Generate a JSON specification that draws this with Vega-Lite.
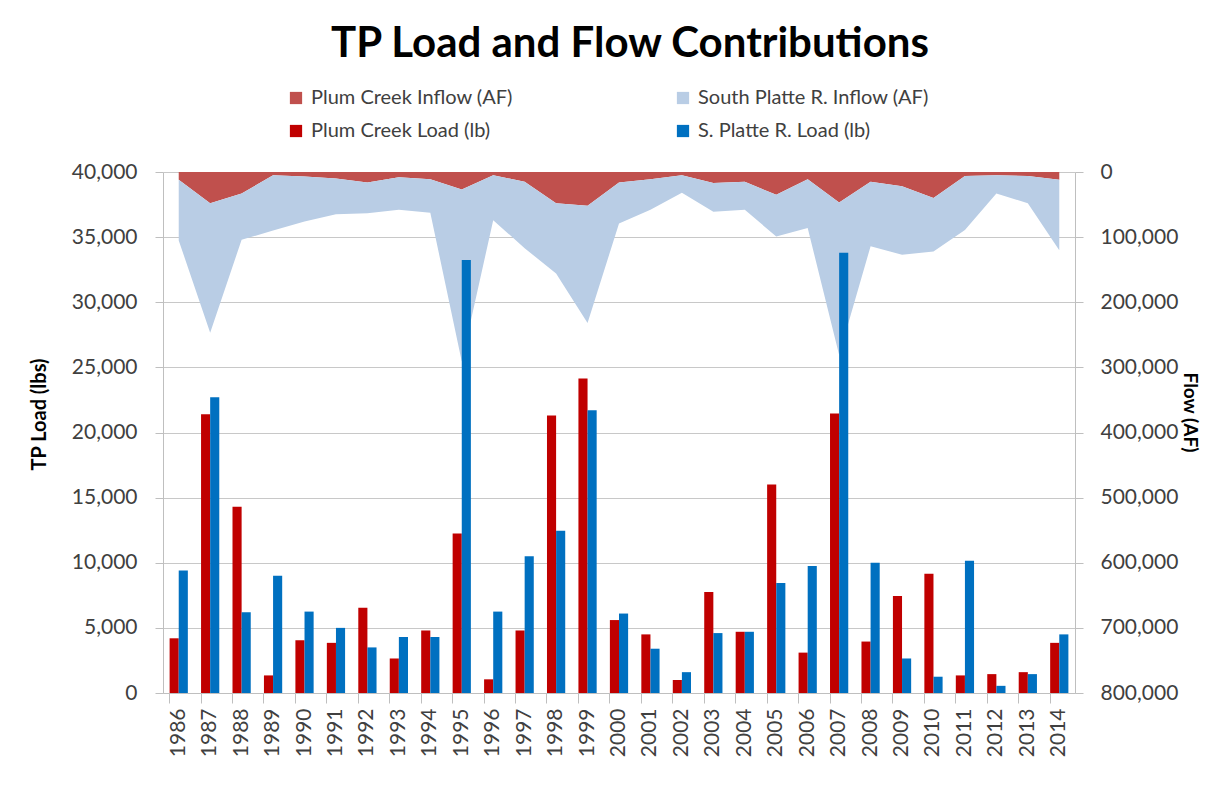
{
  "$schema": "https://vega.github.io/schema/vega-lite/v6.json",
  "width": 912,
  "height": 521,
  "autosize": {"type": "none"},
  "padding": {"left": 163, "top": 172, "right": 133, "bottom": 110},
  "background": "white",
  "title": {
    "text": "TP Load and Flow Contributions",
    "font": "Lato",
    "fontSize": 42,
    "fontWeight": "bold",
    "color": "#000000",
    "anchor": "middle",
    "dx": 11,
    "offset": 22
  },
  "config": {
    "view": {"stroke": null},
    "axis": {
      "labelFont": "Lato",
      "labelFontSize": 21,
      "labelColor": "#404040",
      "titleFont": "Lato",
      "titleFontSize": 20,
      "titleFontWeight": "bold",
      "titleColor": "#000000",
      "domainColor": "#bfbfbf",
      "tickColor": "#bfbfbf",
      "gridColor": "#c8c8c8"
    },
    "legend": {
      "labelFont": "Lato",
      "labelFontSize": 20,
      "labelColor": "#404040",
      "labelLimit": 400
    }
  },
  "datasets": {
    "flow": [
      {"year": "1986", "series": "Plum Creek Inflow (AF)", "flow": 12000},
      {"year": "1987", "series": "Plum Creek Inflow (AF)", "flow": 48000},
      {"year": "1988", "series": "Plum Creek Inflow (AF)", "flow": 33000},
      {"year": "1989", "series": "Plum Creek Inflow (AF)", "flow": 5000},
      {"year": "1990", "series": "Plum Creek Inflow (AF)", "flow": 7000},
      {"year": "1991", "series": "Plum Creek Inflow (AF)", "flow": 10000},
      {"year": "1992", "series": "Plum Creek Inflow (AF)", "flow": 16000},
      {"year": "1993", "series": "Plum Creek Inflow (AF)", "flow": 8000},
      {"year": "1994", "series": "Plum Creek Inflow (AF)", "flow": 11000},
      {"year": "1995", "series": "Plum Creek Inflow (AF)", "flow": 27000},
      {"year": "1996", "series": "Plum Creek Inflow (AF)", "flow": 5000},
      {"year": "1997", "series": "Plum Creek Inflow (AF)", "flow": 15000},
      {"year": "1998", "series": "Plum Creek Inflow (AF)", "flow": 48000},
      {"year": "1999", "series": "Plum Creek Inflow (AF)", "flow": 52000},
      {"year": "2000", "series": "Plum Creek Inflow (AF)", "flow": 16000},
      {"year": "2001", "series": "Plum Creek Inflow (AF)", "flow": 11000},
      {"year": "2002", "series": "Plum Creek Inflow (AF)", "flow": 5000},
      {"year": "2003", "series": "Plum Creek Inflow (AF)", "flow": 17000},
      {"year": "2004", "series": "Plum Creek Inflow (AF)", "flow": 15000},
      {"year": "2005", "series": "Plum Creek Inflow (AF)", "flow": 35000},
      {"year": "2006", "series": "Plum Creek Inflow (AF)", "flow": 11000},
      {"year": "2007", "series": "Plum Creek Inflow (AF)", "flow": 47000},
      {"year": "2008", "series": "Plum Creek Inflow (AF)", "flow": 15000},
      {"year": "2009", "series": "Plum Creek Inflow (AF)", "flow": 22000},
      {"year": "2010", "series": "Plum Creek Inflow (AF)", "flow": 40000},
      {"year": "2011", "series": "Plum Creek Inflow (AF)", "flow": 6000},
      {"year": "2012", "series": "Plum Creek Inflow (AF)", "flow": 5000},
      {"year": "2013", "series": "Plum Creek Inflow (AF)", "flow": 6000},
      {"year": "2014", "series": "Plum Creek Inflow (AF)", "flow": 12000},
      {"year": "1986", "series": "South Platte R. Inflow (AF)", "flow": 93000},
      {"year": "1987", "series": "South Platte R. Inflow (AF)", "flow": 199000},
      {"year": "1988", "series": "South Platte R. Inflow (AF)", "flow": 71000},
      {"year": "1989", "series": "South Platte R. Inflow (AF)", "flow": 85000},
      {"year": "1990", "series": "South Platte R. Inflow (AF)", "flow": 69000},
      {"year": "1991", "series": "South Platte R. Inflow (AF)", "flow": 55000},
      {"year": "1992", "series": "South Platte R. Inflow (AF)", "flow": 47500},
      {"year": "1993", "series": "South Platte R. Inflow (AF)", "flow": 50000},
      {"year": "1994", "series": "South Platte R. Inflow (AF)", "flow": 51500},
      {"year": "1995", "series": "South Platte R. Inflow (AF)", "flow": 264000},
      {"year": "1996", "series": "South Platte R. Inflow (AF)", "flow": 69000},
      {"year": "1997", "series": "South Platte R. Inflow (AF)", "flow": 102000},
      {"year": "1998", "series": "South Platte R. Inflow (AF)", "flow": 108000},
      {"year": "1999", "series": "South Platte R. Inflow (AF)", "flow": 180000},
      {"year": "2000", "series": "South Platte R. Inflow (AF)", "flow": 63000},
      {"year": "2001", "series": "South Platte R. Inflow (AF)", "flow": 47000},
      {"year": "2002", "series": "South Platte R. Inflow (AF)", "flow": 27000},
      {"year": "2003", "series": "South Platte R. Inflow (AF)", "flow": 44000},
      {"year": "2004", "series": "South Platte R. Inflow (AF)", "flow": 43000},
      {"year": "2005", "series": "South Platte R. Inflow (AF)", "flow": 64000},
      {"year": "2006", "series": "South Platte R. Inflow (AF)", "flow": 75000},
      {"year": "2007", "series": "South Platte R. Inflow (AF)", "flow": 234000},
      {"year": "2008", "series": "South Platte R. Inflow (AF)", "flow": 99000},
      {"year": "2009", "series": "South Platte R. Inflow (AF)", "flow": 105000},
      {"year": "2010", "series": "South Platte R. Inflow (AF)", "flow": 82000},
      {"year": "2011", "series": "South Platte R. Inflow (AF)", "flow": 83000},
      {"year": "2012", "series": "South Platte R. Inflow (AF)", "flow": 28000},
      {"year": "2013", "series": "South Platte R. Inflow (AF)", "flow": 42000},
      {"year": "2014", "series": "South Platte R. Inflow (AF)", "flow": 108000}
    ],
    "load": [
      {"year": "1986", "series": "Plum Creek Load (lb)", "load": 4200},
      {"year": "1987", "series": "Plum Creek Load (lb)", "load": 21400},
      {"year": "1988", "series": "Plum Creek Load (lb)", "load": 14300},
      {"year": "1989", "series": "Plum Creek Load (lb)", "load": 1350},
      {"year": "1990", "series": "Plum Creek Load (lb)", "load": 4050},
      {"year": "1991", "series": "Plum Creek Load (lb)", "load": 3850},
      {"year": "1992", "series": "Plum Creek Load (lb)", "load": 6550},
      {"year": "1993", "series": "Plum Creek Load (lb)", "load": 2650},
      {"year": "1994", "series": "Plum Creek Load (lb)", "load": 4800},
      {"year": "1995", "series": "Plum Creek Load (lb)", "load": 12250},
      {"year": "1996", "series": "Plum Creek Load (lb)", "load": 1050},
      {"year": "1997", "series": "Plum Creek Load (lb)", "load": 4800},
      {"year": "1998", "series": "Plum Creek Load (lb)", "load": 21300},
      {"year": "1999", "series": "Plum Creek Load (lb)", "load": 24150},
      {"year": "2000", "series": "Plum Creek Load (lb)", "load": 5600},
      {"year": "2001", "series": "Plum Creek Load (lb)", "load": 4500},
      {"year": "2002", "series": "Plum Creek Load (lb)", "load": 1000},
      {"year": "2003", "series": "Plum Creek Load (lb)", "load": 7750},
      {"year": "2004", "series": "Plum Creek Load (lb)", "load": 4700},
      {"year": "2005", "series": "Plum Creek Load (lb)", "load": 16000},
      {"year": "2006", "series": "Plum Creek Load (lb)", "load": 3100},
      {"year": "2007", "series": "Plum Creek Load (lb)", "load": 21450},
      {"year": "2008", "series": "Plum Creek Load (lb)", "load": 3950},
      {"year": "2009", "series": "Plum Creek Load (lb)", "load": 7450},
      {"year": "2010", "series": "Plum Creek Load (lb)", "load": 9150},
      {"year": "2011", "series": "Plum Creek Load (lb)", "load": 1350},
      {"year": "2012", "series": "Plum Creek Load (lb)", "load": 1450},
      {"year": "2013", "series": "Plum Creek Load (lb)", "load": 1600},
      {"year": "2014", "series": "Plum Creek Load (lb)", "load": 3850},
      {"year": "1986", "series": "S. Platte R. Load (lb)", "load": 9400},
      {"year": "1987", "series": "S. Platte R. Load (lb)", "load": 22700},
      {"year": "1988", "series": "S. Platte R. Load (lb)", "load": 6200},
      {"year": "1989", "series": "S. Platte R. Load (lb)", "load": 9000},
      {"year": "1990", "series": "S. Platte R. Load (lb)", "load": 6250},
      {"year": "1991", "series": "S. Platte R. Load (lb)", "load": 5000},
      {"year": "1992", "series": "S. Platte R. Load (lb)", "load": 3500},
      {"year": "1993", "series": "S. Platte R. Load (lb)", "load": 4300},
      {"year": "1994", "series": "S. Platte R. Load (lb)", "load": 4300},
      {"year": "1995", "series": "S. Platte R. Load (lb)", "load": 33250},
      {"year": "1996", "series": "S. Platte R. Load (lb)", "load": 6250},
      {"year": "1997", "series": "S. Platte R. Load (lb)", "load": 10500},
      {"year": "1998", "series": "S. Platte R. Load (lb)", "load": 12450},
      {"year": "1999", "series": "S. Platte R. Load (lb)", "load": 21700},
      {"year": "2000", "series": "S. Platte R. Load (lb)", "load": 6100},
      {"year": "2001", "series": "S. Platte R. Load (lb)", "load": 3400},
      {"year": "2002", "series": "S. Platte R. Load (lb)", "load": 1600},
      {"year": "2003", "series": "S. Platte R. Load (lb)", "load": 4600},
      {"year": "2004", "series": "S. Platte R. Load (lb)", "load": 4700},
      {"year": "2005", "series": "S. Platte R. Load (lb)", "load": 8450},
      {"year": "2006", "series": "S. Platte R. Load (lb)", "load": 9750},
      {"year": "2007", "series": "S. Platte R. Load (lb)", "load": 33800},
      {"year": "2008", "series": "S. Platte R. Load (lb)", "load": 10000},
      {"year": "2009", "series": "S. Platte R. Load (lb)", "load": 2650},
      {"year": "2010", "series": "S. Platte R. Load (lb)", "load": 1250},
      {"year": "2011", "series": "S. Platte R. Load (lb)", "load": 10150},
      {"year": "2012", "series": "S. Platte R. Load (lb)", "load": 550},
      {"year": "2013", "series": "S. Platte R. Load (lb)", "load": 1450},
      {"year": "2014", "series": "S. Platte R. Load (lb)", "load": 4500}
    ]
  },
  "layer": [
    {
      "data": {"name": "flow"},
      "mark": {"type": "area", "opacity": 1},
      "encoding": {
        "x": {"field": "year", "type": "ordinal", "bandPosition": 0.5,
              "scale": {"paddingInner": 0.42, "paddingOuter": 0.21}},
        "y": {
          "field": "flow", "type": "quantitative", "stack": "zero",
          "scale": {"domain": [0, 800000], "reverse": true, "nice": false},
          "axis": {
            "orient": "right", "values": [0, 100000, 200000, 300000, 400000, 500000, 600000, 700000, 800000],
            "format": ",.0f", "grid": false, "tickSize": 8, "labelPadding": 17,
            "title": "Flow (AF)", "titleAngle": 90, "titlePadding": 2, "titleFontSize": 19, "titleY": 240
          }
        },
        "color": {
          "field": "series", "type": "nominal",
          "scale": {
            "domain": ["Plum Creek Inflow (AF)", "Plum Creek Load (lb)", "South Platte R. Inflow (AF)", "S. Platte R. Load (lb)"],
            "range": ["#C0504D", "#C00000", "#B9CDE5", "#0070C0"]
          },
          "legend": {
            "title": null, "orient": "none", "legendX": 123, "legendY": -84,
            "columns": 2, "columnPadding": 160, "rowPadding": 13,
            "symbolType": "square", "symbolSize": 150, "symbolStrokeWidth": 0,
            "labelOffset": 5
          }
        },
        "order": {"field": "series", "sort": "ascending"}
      }
    },
    {
      "data": {"name": "load"},
      "mark": {"type": "bar"},
      "encoding": {
        "x": {
          "field": "year", "type": "ordinal",
          "axis": {
            "title": null, "labelAngle": -90, "bandPosition": 0,
            "tickSize": 10, "labelPadding": 5
          }
        },
        "xOffset": {"field": "series", "type": "nominal",
                    "sort": ["Plum Creek Load (lb)", "S. Platte R. Load (lb)"]},
        "y": {
          "field": "load", "type": "quantitative",
          "scale": {"domain": [0, 40000], "nice": false},
          "axis": {
            "orient": "left", "values": [0, 5000, 10000, 15000, 20000, 25000, 30000, 35000, 40000],
            "format": ",.0f", "grid": true, "tickSize": 8, "labelPadding": 18,
            "title": "TP Load (lbs)", "titlePadding": 22, "titleY": 242
          }
        },
        "color": {"field": "series", "type": "nominal"}
      }
    }
  ],
  "resolve": {"scale": {"y": "independent"}, "axis": {"y": "independent"}}
}
